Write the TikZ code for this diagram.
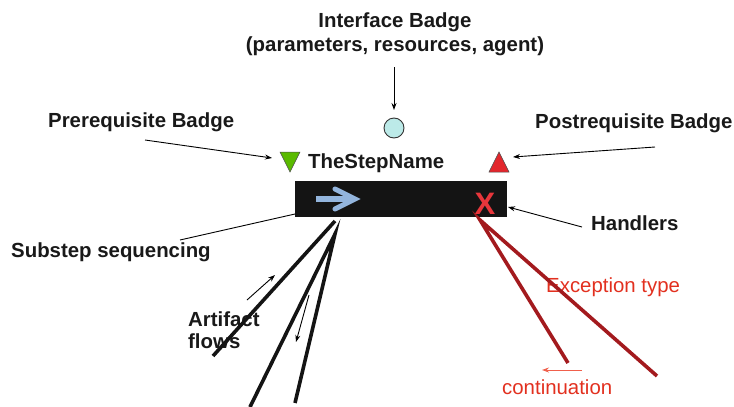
\documentclass[tikz,border=0pt]{standalone}
\usepackage{fontspec}
\setmainfont{Liberation Sans}
\usetikzlibrary{arrows.meta}
\definecolor{badgegreen}{RGB}{90,186,0}
\definecolor{badgered}{RGB}{226,38,44}
\definecolor{badgecyan}{RGB}{188,234,232}
\definecolor{seqblue}{RGB}{147,181,221}
\definecolor{barblack}{RGB}{20,20,20}
\definecolor{handlerred}{RGB}{232,54,59}
\definecolor{excline}{RGB}{163,26,30}
\definecolor{exctext}{RGB}{226,48,31}
\definecolor{contarrow}{RGB}{240,96,76}
\tikzset{
  lbl/.style={inner sep=0pt, anchor=base west, font=\fontsize{20.4}{24}\selectfont\bfseries, text=black!90},
  redlbl/.style={inner sep=0pt, anchor=base west, font=\fontsize{20.4}{24}\selectfont, text=exctext},
  pointer/.style={line width=0.9pt, -{Stealth[length=7pt,width=5pt]}},
  flowline/.style={line width=3.6pt, black!92},
  excbranch/.style={line width=3.6pt, excline},
}
\begin{document}
\begin{tikzpicture}[x=1pt,y=-1pt]
\useasboundingbox (0,0) rectangle (734,407);

% the step bar with its sequencing arrow and handler mark
\node[fill=barblack, inner sep=0pt, minimum width=212pt, minimum height=36pt, anchor=north west] (bar) at (295,181) {};
\draw[seqblue, line width=5.4pt] (316,199) -- (352,199);
\draw[seqblue, line width=5pt, line join=miter, line cap=round] (335,189) -- (355,199) -- (335,209);
\node[inner sep=0pt, font=\fontsize{31}{31}\selectfont\bfseries, text=handlerred] (handlerx) at (485,204) {X};

% badges
\node[circle, draw=black!80, line width=0.9pt, fill=badgecyan, minimum size=20pt, inner sep=0pt] (iface) at (394,128) {};
\fill[badgegreen, draw=black!70, line width=0.5pt] (280,152) -- (300,152) -- (290,172) -- cycle;
\coordinate (prebadge) at (280,160);
\fill[badgered, draw=black!70, line width=0.5pt] (489,172) -- (509,172) -- (499,152) -- cycle;
\coordinate (postbadge) at (509,160);
\node[lbl] (stepname) at (308,168) {TheStepName};

% labels (a two-line node's base anchor sits on its last line)
\node[inner sep=0pt, align=center, font=\fontsize{20.4}{24}\selectfont\bfseries, text=black!90, anchor=base] (ifacelbl) at (395,51) {Interface Badge\\(parameters, resources, agent)};
\node[lbl] (prelbl) at (48,127) {Prerequisite Badge};
\node[lbl] (postlbl) at (535,128) {Postrequisite Badge};
\node[lbl] (handlerlbl) at (591,230) {Handlers};
\node[lbl] (seqlbl) at (11,257) {Substep sequencing};
\node[lbl] (artlbl) at (188,326) {Artifact};
\node[lbl] (artlbl2) at (188,348) {flows};
\node[redlbl] (exclbl) at (546,292) {Exception type};
\node[redlbl] (contlbl) at (502,394) {continuation};

% pointers from labels
\coordinate (ifacefrom) at (394,67);
\coordinate (ifaceto) at (394,110);
\draw[pointer] (ifacefrom) -- (ifaceto);
\coordinate (prefrom) at (145,140);
\coordinate (preto) at (272,158);
\draw[pointer] (prefrom) -- (preto);
\coordinate (postfrom) at (655,147);
\coordinate (postto) at (513,157);
\draw[pointer] (postfrom) -- (postto);
\coordinate (handlerfrom) at (582,227);
\coordinate (handlerto) at (508,207);
\draw[pointer] (handlerfrom) -- (handlerto);
\coordinate (seqfrom) at (180,240);
\coordinate (seqto) at (295,214);
\draw[line width=0.9pt] (seqfrom) -- (seqto);

% artifact flow lines
\coordinate (flowa) at (335,221);
\coordinate (flowb) at (335,234);
\coordinate (flowa1) at (213,356);
\coordinate (flowb1) at (250,407);
\coordinate (flowb2) at (295,403);
\draw[flowline] (flowa) -- (flowa1);
\draw[flowline] (flowb1) -- (flowb) -- (flowb2);
\coordinate (inflowfrom) at (247,300);
\coordinate (inflowto) at (275,275);
\draw[pointer] (inflowfrom) -- (inflowto);
\coordinate (outflowfrom) at (309,295);
\coordinate (outflowto) at (296,342);
\draw[pointer] (outflowfrom) -- (outflowto);

% exception handling branches
\coordinate (excroot) at (480,220);
\coordinate (excend1) at (568,363);
\coordinate (excend2) at (657,376);
\draw[excbranch] (excend1) -- (excroot) -- (excend2);
\coordinate (contfrom) at (582,370);
\coordinate (contto) at (542,370);
\draw[line width=0.9pt, contarrow, -{Stealth[length=7pt,width=5pt]}] (contfrom) -- (contto);
\end{tikzpicture}
\end{document}
